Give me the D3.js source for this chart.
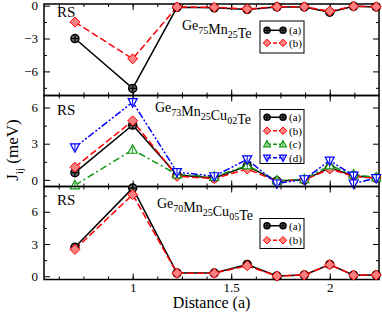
<!DOCTYPE html>
<html>
<head>
<meta charset="utf-8">
<script src="https://cdn.jsdelivr.net/npm/d3@7"></script>
<style>
  body { margin: 0; background: #fff; }
  svg { display: block; }
</style>
</head>
<body>
<div id="chart"></div>
<script>
// distances in units of the lattice constant a
const distances = [0.707, 1, 1.225, 1.414, 1.581, 1.732, 1.871, 2, 2.121, 2.236];
const distances_d = [0.707, 1, 1.225, 1.414, 1.581, 1.732, 1.871, 2, 2.121, 2.121, 2.236];

// Ge75Mn25Te
const top_a = [-3.0, -7.55, -0.15, -0.2, -0.35, -0.12, -0.12, -0.6, -0.06, -0.12];
const top_b = [-1.5, -4.85, -0.12, -0.15, -0.3, -0.1, -0.1, -0.5, -0.05, -0.1];
// Ge73Mn25Cu02Te
const mid_a = [0.6, 4.55, 0.4, 0.15, 1.15, -0.1, 0.0, 1.0, 0.35, 0.15];
const mid_b = [1.05, 4.9, 0.3, 0.1, 0.9, -0.1, 0.0, 0.9, 0.3, 0.15];
const mid_c = [-0.45, 2.5, 0.45, 0.25, 1.2, -0.05, 0.05, 1.2, 0.45, 0.2];
const mid_d = [2.7, 6.45, 0.65, 0.3, 1.7, -0.3, 0.05, 1.6, 0.35, -0.3, 0.15];
// Ge70Mn25Cu05Te
const bot_a = [2.7, 8.2, 0.3, 0.3, 1.1, 0.02, 0.12, 1.1, 0.1, 0.12];
const bot_b = [2.5, 7.6, 0.28, 0.28, 0.98, 0.02, 0.12, 1.08, 0.1, 0.12];

const x_ticks = [1, 1.5, 2];
const series_labels = ["(a)", "(b)", "(c)", "(d)"];

const FONT = "'Liberation Serif', 'Times New Roman', 'DejaVu Serif', serif";
const width = 382, height = 313;
const left = 44, right = 379;

const svg = d3.select("#chart").append("svg")
    .attr("width", width)
    .attr("height", height)
    .style("font-family", FONT);

const x = d3.scaleLinear().domain([0.55, 2.25]).range([left, right]);

// series styles
const styles = {
    a: {color: "#000000", dash: null, marker: "circle"},
    b: {color: "#ff0000", dash: "7,3", marker: "diamond"},
    c: {color: "#119911", dash: "7,3,2,3", marker: "up"},
    d: {color: "#0000ff", dash: "7,2,2,2,2,2", marker: "down"}
};

function drawMarker(g, type, cx, cy, color, s = 1) {
    if (type === "circle") {
        g.append("circle").attr("cx", cx).attr("cy", cy).attr("r", 4 * s)
            .attr("fill", "#666").attr("stroke", "#000").attr("stroke-width", 1.5);
        g.append("path")
            .attr("d", `M${cx-3*s},${cy}H${cx+3*s}M${cx},${cy-3*s}V${cy+3*s}`)
            .attr("stroke", "#000").attr("stroke-width", 1.2);
    } else if (type === "diamond") {
        g.append("path")
            .attr("d", `M${cx},${cy-5*s}L${cx+5*s},${cy}L${cx},${cy+5*s}L${cx-5*s},${cy}Z`)
            .attr("fill", "#ff8080").attr("stroke", "#ff0000").attr("stroke-width", 1);
    } else if (type === "up") {
        g.append("path")
            .attr("d", `M${cx},${cy-5*s}L${cx+4.5*s},${cy+3.5*s}L${cx-4.5*s},${cy+3.5*s}Z`)
            .attr("fill", "#fff").attr("stroke", color).attr("stroke-width", 1.2);
        g.append("path").attr("d", `M${cx},${cy-3*s}V${cy+3.5*s}`)
            .attr("stroke", color).attr("stroke-width", 1);
    } else if (type === "down") {
        g.append("path")
            .attr("d", `M${cx},${cy+5*s}L${cx+4.5*s},${cy-3.5*s}L${cx-4.5*s},${cy-3.5*s}Z`)
            .attr("fill", "#fff").attr("stroke", color).attr("stroke-width", 1.2);
        g.append("path").attr("d", `M${cx},${cy+3*s}V${cy-3.5*s}`)
            .attr("stroke", color).attr("stroke-width", 1);
    }
}

function drawPanel(p) {
    const y = d3.scaleLinear().domain(p.domain).range([p.bottom, p.top]);
    const g = svg.append("g");

    // ticks on all four sides, pointing inward
    const xMinor = d3.range(0.625, 2.25, 0.125);
    g.append("g").attr("transform", `translate(0,${p.bottom})`)
        .call(d3.axisBottom(x).tickValues(xMinor).tickSize(-3).tickFormat(""));
    g.append("g").attr("transform", `translate(0,${p.bottom})`)
        .call(d3.axisBottom(x).tickValues(x_ticks).tickSize(-6).tickPadding(3)
            .tickFormat(p.xlabels ? d3.format("") : ""));
    g.append("g").attr("transform", `translate(0,${p.top})`)
        .call(d3.axisTop(x).tickValues(xMinor).tickSize(-3).tickFormat(""));
    g.append("g").attr("transform", `translate(0,${p.top})`)
        .call(d3.axisTop(x).tickValues(x_ticks).tickSize(-6).tickFormat(""));

    g.append("g").attr("transform", `translate(${left},0)`)
        .call(d3.axisLeft(y).tickValues(p.minor).tickSize(-3).tickFormat(""));
    g.append("g").attr("transform", `translate(${left},0)`)
        .call(d3.axisLeft(y).tickValues(p.major).tickSize(-6).tickPadding(6).tickFormat(d3.format("d")));
    g.append("g").attr("transform", `translate(${right},0)`)
        .call(d3.axisRight(y).tickValues(p.minor).tickSize(-3).tickFormat(""));
    g.append("g").attr("transform", `translate(${right},0)`)
        .call(d3.axisRight(y).tickValues(p.major).tickSize(-6).tickFormat(""));

    g.selectAll(".domain").remove();
    g.selectAll("g").attr("font-family", null);
    g.selectAll(".tick line").attr("stroke", "#000").attr("stroke-width", 1);
    g.selectAll(".tick text").attr("font-size", 13).attr("fill", "#000")
        .style("font-family", FONT);

    g.append("rect")
        .attr("x", left).attr("y", p.top)
        .attr("width", right - left).attr("height", p.bottom - p.top)
        .attr("fill", "none").attr("stroke", "#000").attr("stroke-width", 1.5);

    // lines
    p.series.forEach(s => {
        const st = styles[s.key];
        const pts = s.values.map((v, i) => [s.xs[i], v]);
        g.append("path")
            .datum(pts)
            .attr("fill", "none")
            .attr("stroke", st.color)
            .attr("stroke-width", 1.5)
            .attr("stroke-dasharray", st.dash)
            .attr("d", d3.line().x(d => x(d[0])).y(d => y(d[1])));
    });
    // markers
    p.series.forEach(s => {
        const st = styles[s.key];
        s.values.forEach((v, i) => drawMarker(g, st.marker, x(s.xs[i]), y(v), st.color));
    });

    // "RS" tag
    g.append("text").attr("x", 57).attr("y", p.top + p.rsDy)
        .attr("font-size", 15).style("font-family", FONT).text("RS");

    // compound label with subscripts
    const t = g.append("text").attr("x", p.labelX).attr("y", p.top + p.labelDy)
        .attr("font-size", 14).style("font-family", FONT);
    p.formula.forEach(part => {
        t.append("tspan").text(part[0]);
        if (part[1]) {
            t.append("tspan").attr("font-size", 10).attr("dy", 4).text(part[1]);
            t.append("tspan").attr("dy", -4).text("");
        }
    });

    // legend
    const lg = g.append("g");
    lg.append("rect")
        .attr("x", 260).attr("y", p.top + p.legDy)
        .attr("width", 44).attr("height", p.legH)
        .attr("fill", "#fff").attr("stroke", "#000").attr("stroke-width", 1);
    p.series.forEach((s, i) => {
        const st = styles[s.key];
        const ly = p.top + p.legDy + p.legStep * (i + 0.5) + p.legPad;
        lg.append("line").attr("x1", 267).attr("x2", 283).attr("y1", ly).attr("y2", ly)
            .attr("stroke", st.color).attr("stroke-width", 1.5)
            .attr("stroke-dasharray", st.dash ? "4,2" : null);
        drawMarker(lg, st.marker, 267, ly, st.color, 0.75);
        drawMarker(lg, st.marker, 283, ly, st.color, 0.75);
        lg.append("text").attr("x", 289).attr("y", ly + 4)
            .attr("font-size", 11).style("font-family", FONT).text(series_labels[i]);
    });
}

const panels = [
    {
        top: 4, bottom: 95.5, domain: [-8.2, 0.15],
        major: [0, -3, -6], minor: [-1.5, -4.5, -7.5],
        series: [
            {key: "a", xs: distances, values: top_a},
            {key: "b", xs: distances, values: top_b}
        ],
        rsDy: 13, labelX: 182, labelDy: 26,
        formula: [["Ge", "75"], ["Mn", "25"], ["Te", null]],
        legDy: 17, legH: 32, legStep: 12.6, legPad: 3,
        xlabels: false
    },
    {
        top: 95.5, bottom: 186.5, domain: [-0.55, 7],
        major: [0, 3, 6], minor: [1.5, 4.5],
        series: [
            {key: "a", xs: distances, values: mid_a},
            {key: "b", xs: distances, values: mid_b},
            {key: "c", xs: distances, values: mid_c},
            {key: "d", xs: distances_d, values: mid_d}
        ],
        rsDy: 19, labelX: 155, labelDy: 16,
        formula: [["Ge", "73"], ["Mn", "25"], ["Cu", "02"], ["Te", null]],
        legDy: 14, legH: 54, legStep: 13.5, legPad: 1,
        xlabels: false
    },
    {
        top: 186.5, bottom: 279.5, domain: [-0.3, 8.35],
        major: [0, 3, 6], minor: [1.5, 4.5, 7.5],
        series: [
            {key: "a", xs: distances, values: bot_a},
            {key: "b", xs: distances, values: bot_b}
        ],
        rsDy: 18, labelX: 157, labelDy: 21,
        formula: [["Ge", "70"], ["Mn", "25"], ["Cu", "05"], ["Te", null]],
        legDy: 32, legH: 30, legStep: 14.5, legPad: 0,
        xlabels: true
    }
];

panels.forEach(drawPanel);

// axis titles
svg.append("text")
    .attr("x", (left + right) / 2).attr("y", 308)
    .attr("text-anchor", "middle").attr("font-size", 16)
    .style("font-family", FONT)
    .text("Distance (a)");

const yt = svg.append("text")
    .attr("transform", "translate(18,150) rotate(-90)")
    .attr("text-anchor", "middle").attr("font-size", 17)
    .style("font-family", FONT);
yt.append("tspan").text("J");
yt.append("tspan").attr("font-size", 11).attr("dy", 5).text("ij");
yt.append("tspan").attr("dy", -5).text(" (meV)");
</script>
</body>
</html>
